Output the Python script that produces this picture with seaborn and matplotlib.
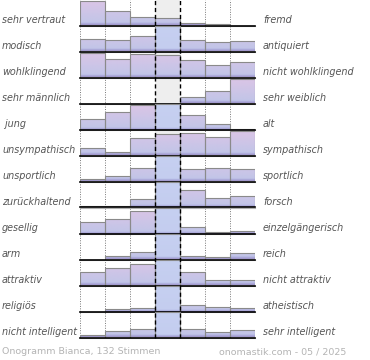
import numpy as np
import matplotlib
matplotlib.use("Agg")
import matplotlib.pyplot as plt
from matplotlib.colors import LinearSegmentedColormap
from matplotlib.lines import Line2D
import seaborn as sns

# word pairs of the onogram
left_labels = ["sehr vertraut", "modisch", "wohlklingend", "sehr männlich", " jung",
               "unsympathisch", "unsportlich", "zurückhaltend", "gesellig", "arm",
               "attraktiv", "religiös", "nicht intelligent"]
right_labels = ["fremd", "antiquiert", "nicht wohlklingend", "sehr weiblich", "alt",
                "sympathisch", "sportlich", "forsch", "einzelgängerisch", "reich",
                "nicht attraktiv", "atheistisch", "sehr intelligent"]
scale = ["1", "2", "3", "4", "5", "6", "7"]

# bar heights per row (25.5 = top of the row)
row_values = [
    [24, 14, 8, 7.7, 2.3, 1, 0],
    [12, 11, 15, 25.5, 11, 9, 10],
    [24, 18, 22.7, 21.7, 16.7, 12.7, 15.3],
    [0, 0, 0, 0, 6.7, 12.3, 24.3],
    [10.3, 16.7, 23.7, 25.5, 14.7, 5.3, 0.5],
    [7.3, 3.3, 16.7, 20.7, 22, 18.3, 24.3],
    [2, 5.3, 13.3, 25.5, 12, 13.3, 12],
    [1, 1, 8.7, 25.5, 16.7, 9.3, 11.7],
    [11.7, 14.7, 21.7, 25.5, 6.3, 1.3, 2.3],
    [0, 3.7, 7.7, 25.5, 3.7, 2.7, 6],
    [13, 17, 21, 25.5, 13.7, 5.3, 5.3],
    [0, 2.7, 3.7, 25.5, 6.7, 4.3, 3.3],
    [2.3, 6, 8.3, 25.5, 8.3, 5, 7],
]
# neutral bar cut off at the top of the row
neutral_cut = [False, True, False, False, True, False, True,
               True, True, True, True, True, True]

footer_left = "Onogramm Bianca, 132 Stimmen"
footer_right = "onomastik.com - 05 / 2025"

W, H = 370, 360
TOP = 25.5
fig = plt.figure(figsize=(W / 100, H / 100), dpi=100)

# normal bars: purple foot, lavender to pink upwards
grad = LinearSegmentedColormap.from_list(
    "ono", [(0, "#9d92c8"), (0.07, "#b2b3e0"), (0.1, "#c2c5e8"), (1, "#ddc5e6")])
cut = LinearSegmentedColormap.from_list(
    "cut", [(0, "#9d92c8"), (0.07, "#b4bbe6"), (0.1, "#c4cdef"), (1, "#c6d0f1")])

x0, pw = 80, 175
n = len(row_values)
bottom_px = TOP + 26 * (n - 1) + 0.5

# background: neutral column and dotted column lines
bg = fig.add_axes([x0 / W, 1 - bottom_px / H, pw / W, (bottom_px + 0.5) / H])
bg.set_xlim(-0.5, 6.5)
bg.set_ylim(0, 1)
bg.axvspan(2.5, 3.5, color="#eeeeee", lw=0)
for xv in [-0.5, 0.5, 1.5, 4.5, 5.5, 6.5]:
    bg.axvline(xv, color="#777777", ls=(0, (1, 1.5)), lw=0.7)
bg.set_axis_off()

gradient = np.linspace(0, 1, 256).reshape(-1, 1)

for i, vals in enumerate(row_values):
    base = TOP + 26 * i
    ax = fig.add_axes([x0 / W, 1 - base / H, pw / W, 26 / H])
    ax.patch.set_alpha(0)
    sns.barplot(x=scale, y=vals, ax=ax, color="#c2c5e8", width=1,
                edgecolor="#8a8a8a", linewidth=0.8)
    for j, p in enumerate(ax.patches):
        h = p.get_height()
        if h <= 0:
            p.set_visible(False)
            continue
        cm = cut if (j == 3 and neutral_cut[i]) else grad
        im = ax.imshow(gradient, extent=[p.get_x(), p.get_x() + p.get_width(), 0, TOP],
                       origin="lower", aspect="auto", cmap=cm, vmin=0, vmax=1,
                       zorder=p.get_zorder() - 0.1)
        im.set_clip_path(p)
        p.set_facecolor("none")
    ax.set_xlim(-0.5, 6.5)
    ax.set_ylim(0, TOP)
    ax.axhline(-0.9, color="#b0b0b0", lw=0.8, clip_on=False, zorder=4)
    ax.axhline(0, color="black", lw=1.2, clip_on=False, zorder=5)
    ax.set_axis_off()

    yt = 1 - (base - 5.5) / H
    fig.text(2 / W, yt, left_labels[i], ha="left", va="center", fontsize=6.9,
             style="italic", color="#555555")
    fig.text(263 / W, yt, right_labels[i], ha="left", va="center", fontsize=6.9,
             style="italic", color="#555555")

# dashed borders of the neutral column, drawn over the bars
for px in [155, 180]:
    fig.add_artist(Line2D([px / W, px / W], [1 - bottom_px / H, 1], color="black",
                          lw=1.0, ls=(0, (3, 2)), zorder=10))

fig.text(2 / W, 1 - 352 / H, footer_left, ha="left", va="center", fontsize=6.8,
         color="#b4b4b4")
fig.text(346 / W, 1 - 352 / H, footer_right, ha="right", va="center", fontsize=6.8,
         color="#b4b4b4")

fig.savefig("out.png", dpi=100)
